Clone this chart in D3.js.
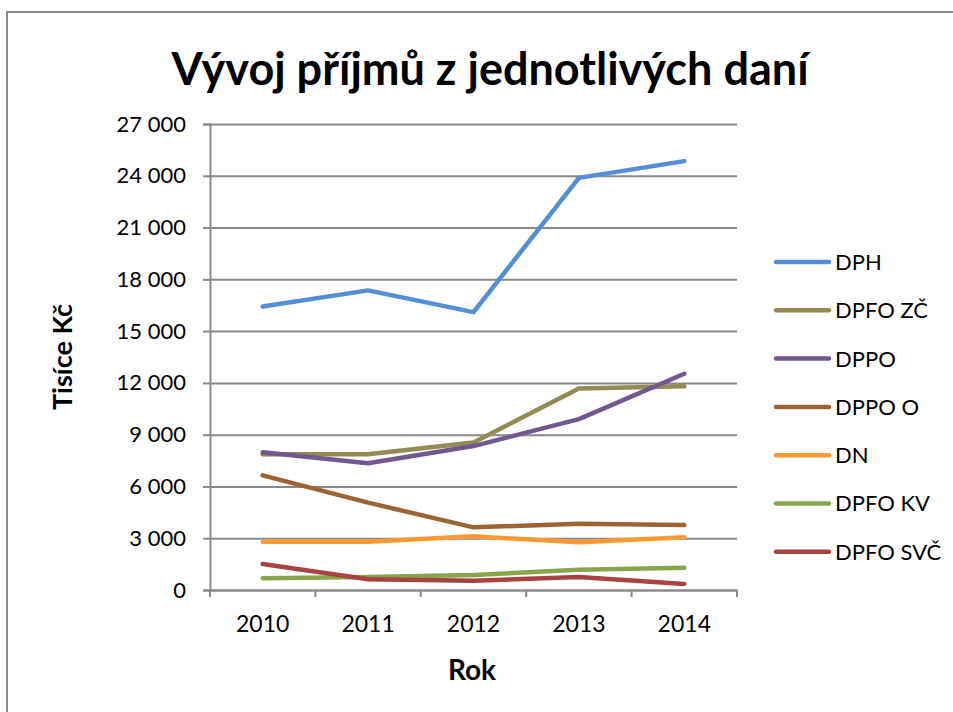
<!DOCTYPE html>
<html>
<head>
<meta charset="utf-8">
<script src="https://cdn.jsdelivr.net/npm/d3@7"></script>
<style>
  body { margin: 0; background: #fff; }
  svg { font-family: Lato, "Noto Sans", sans-serif; }
  .grid line { stroke: #898989; stroke-width: 2px; }
  .tick text { fill: #000; }
</style>
</head>
<body>
<div id="chart"></div>
<script>
// roky a hodnoty (tisíce Kč)
var years = ['2010', '2011', '2012', '2013', '2014'];
var seriesNames = ['DPH', 'DPFO ZČ', 'DPPO', 'DPPO O', 'DN', 'DPFO KV', 'DPFO SVČ'];
var seriesColors = ['#558ED5', '#948A54', '#71588F', '#9B6533', '#FF9933', '#88A54A', '#A74342'];
var dph     = [16430, 17360, 16100, 23880, 24850];
var dpfoZc  = [7860, 7870, 8550, 11680, 11800];
var dppo    = [7980, 7340, 8340, 9900, 12530];
var dppoO   = [6640, 5060, 3630, 3840, 3760];
var dn      = [2800, 2800, 3110, 2760, 3050];
var dpfoKv  = [680, 750, 870, 1180, 1290];
var dpfoSvc = [1510, 620, 540, 750, 350];
var yTicks = [0, 3000, 6000, 9000, 12000, 15000, 18000, 21000, 24000, 27000];

var seriesValues = [dph, dpfoZc, dppo, dppoO, dn, dpfoKv, dpfoSvc];

var width = 953, height = 712;
var plotLeft = 210, plotRight = 737, plotTop = 124, plotBottom = 590;

var svg = d3.select('#chart').append('svg')
  .attr('width', width)
  .attr('height', height);

// rámeček
svg.append('path')
  .attr('d', 'M7,' + (height + 5) + 'V12H' + (width + 5))
  .attr('fill', 'none')
  .attr('stroke', '#898989')
  .attr('stroke-width', 2);

var x = d3.scaleBand().domain(years).range([plotLeft, plotRight]);
var y = d3.scaleLinear().domain([0, 27000]).range([plotBottom, plotTop]);

var fmt = function(d) { return d3.format(',')(d).replace(/,/g, ' '); };

// mřížka
svg.append('g')
  .attr('class', 'grid')
  .attr('transform', 'translate(' + plotLeft + ',0)')
  .call(d3.axisLeft(y).tickValues(yTicks).tickSize(-(plotRight - plotLeft)).tickFormat(''))
  .call(function(g) { g.select('.domain').remove(); });

// osa y
var yAxis = svg.append('g')
  .attr('transform', 'translate(' + plotLeft + ',0)')
  .call(d3.axisLeft(y).tickValues(yTicks).tickSize(7).tickPadding(17).tickFormat(fmt));
yAxis.selectAll('line, path').attr('stroke', '#898989').attr('stroke-width', 2);
yAxis.selectAll('text').attr('font-size', 22).attr('font-family', 'Lato');

// osa x
var xAxis = svg.append('g')
  .attr('transform', 'translate(0,' + plotBottom + ')')
  .call(d3.axisBottom(x).tickSize(0).tickPadding(26));
xAxis.select('.domain').attr('stroke', '#898989').attr('stroke-width', 2);
xAxis.selectAll('text').attr('font-size', 23).attr('font-family', 'Lato');

var edges = years.map(function(d) { return x(d); }).concat([plotRight]);
svg.append('g').selectAll('line')
  .data(edges)
  .enter().append('line')
  .attr('x1', function(d) { return d; })
  .attr('x2', function(d) { return d; })
  .attr('y1', plotBottom)
  .attr('y2', plotBottom + 7)
  .attr('stroke', '#898989')
  .attr('stroke-width', 2);

// čáry
var line = d3.line()
  .x(function(d, i) { return x(years[i]) + x.bandwidth() / 2; })
  .y(function(d) { return y(d); });

svg.append('g').selectAll('path')
  .data(seriesValues)
  .enter().append('path')
  .attr('d', line)
  .attr('fill', 'none')
  .attr('stroke', function(d, i) { return seriesColors[i]; })
  .attr('stroke-width', 4.5)
  .attr('stroke-linecap', 'round')
  .attr('stroke-linejoin', 'round');

// legenda
var legend = svg.append('g').selectAll('g')
  .data(seriesNames)
  .enter().append('g')
  .attr('transform', function(d, i) { return 'translate(776,' + (262 + i * 48.3) + ')'; });

legend.append('line')
  .attr('x1', 0).attr('x2', 53)
  .attr('stroke', function(d, i) { return seriesColors[i]; })
  .attr('stroke-width', 4.5)
  .attr('stroke-linecap', 'round');

legend.append('text')
  .attr('x', 59)
  .attr('dy', '0.36em')
  .attr('font-size', 22)
  .text(function(d) { return d; });

// titulky
svg.append('text')
  .attr('x', 490)
  .attr('y', 85)
  .attr('text-anchor', 'middle')
  .attr('font-size', 45)
  .attr('font-weight', 'bold')
  .text('Vývoj příjmů z jednotlivých daní');

svg.append('text')
  .attr('x', 472)
  .attr('y', 680)
  .attr('text-anchor', 'middle')
  .attr('font-size', 28)
  .attr('font-weight', 'bold')
  .text('Rok');

svg.append('text')
  .attr('transform', 'translate(72,357) rotate(-90)')
  .attr('text-anchor', 'middle')
  .attr('font-size', 27)
  .attr('font-weight', 'bold')
  .text('Tisíce Kč');
</script>
</body>
</html>
